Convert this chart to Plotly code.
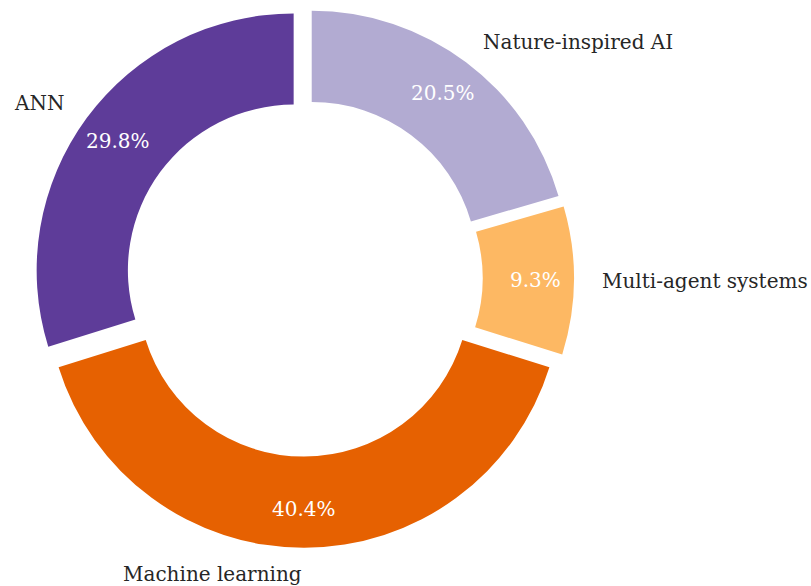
import math
import plotly.graph_objects as go

# Datos del gráfico (orden horario empezando a las 12)
categorias = ["Nature-inspired AI", "Multi-agent systems", "Machine learning", "ANN"]
porcentajes = [20.5, 9.3, 40.4, 29.8]
colores = ["#b2abd2", "#fdb863", "#e66101", "#5e3c99"]

ANCHO, ALTO = 811, 586
CX, CY = 304, 278          # centro del donut en pixeles
RADIO = 257                # radio exterior
PULL = 0.05
HOLE = 0.645
FUENTE = "DejaVu Serif"

# dominio del pie: plotly reduce el radio para dejar sitio al pull
caja = RADIO * (1 + PULL)
dom_x = [(CX - caja) / ANCHO, (CX + caja) / ANCHO]
dom_y = [(ALTO - CY - caja) / ALTO, (ALTO - CY + caja) / ALTO]

fig = go.Figure(go.Pie(
    labels=categorias,
    values=porcentajes,
    marker=dict(colors=colores, line=dict(width=0)),
    hole=HOLE,
    pull=[PULL] * len(porcentajes),
    sort=False,
    direction="clockwise",
    rotation=0,
    textinfo="none",
    domain=dict(x=dom_x, y=dom_y),
    showlegend=False,
))

total = sum(porcentajes)
acumulado = 0
for cat, val in zip(categorias, porcentajes):
    ang = math.radians(90 - 360 * (acumulado + val / 2) / total)
    acumulado += val
    c, s = math.cos(ang), math.sin(ang)

    # etiqueta exterior
    r_lab = RADIO * (1.1 + PULL)
    fig.add_annotation(
        x=(CX + r_lab * c) / ANCHO, y=(ALTO - CY + r_lab * s) / ALTO,
        xref="paper", yref="paper", text=cat, showarrow=False,
        xanchor="left" if c > 1e-9 else "right", yanchor="middle",
        font=dict(family=FUENTE, size=20, color="#262626"),
    )
    # porcentaje sobre el anillo
    r_pct = RADIO * (0.85 + PULL)
    fig.add_annotation(
        x=(CX + r_pct * c) / ANCHO, y=(ALTO - CY + r_pct * s) / ALTO,
        xref="paper", yref="paper", text=f"{val:.1f}%", showarrow=False,
        xanchor="center", yanchor="middle",
        font=dict(family=FUENTE, size=20, color="white"),
    )

fig.update_layout(
    width=ANCHO, height=ALTO,
    margin=dict(l=0, r=0, t=0, b=0),
    paper_bgcolor="white",
    plot_bgcolor="white",
)

# quitar el margen por defecto del body para que la figura quede en (0, 0)
fig.write_html("out.html", config={"displayModeBar": False},
               post_script="document.body.style.margin = '0';")
